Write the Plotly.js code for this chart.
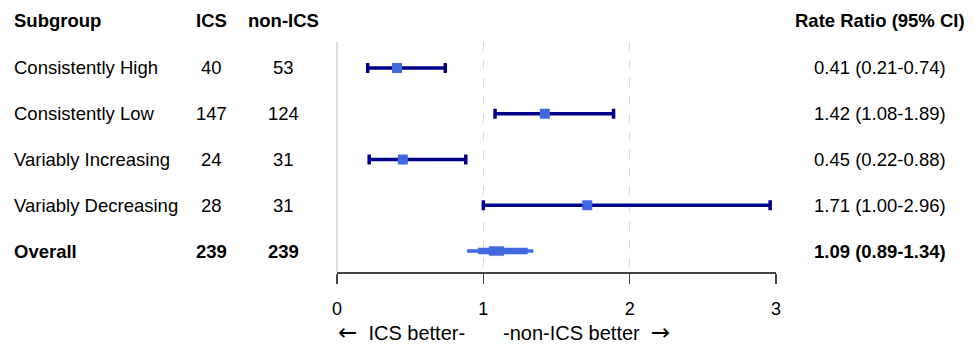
<!DOCTYPE html>
<html>
<head>
<meta charset="utf-8">
<script src="https://cdn.plot.ly/plotly-3.0.1.min.js"></script>
<style>html,body{margin:0;padding:0;background:#fff;}#chart{width:974px;height:345px;}</style>
</head>
<body>
<div id="chart"></div>
<script>
const subgroups = ["Consistently High", "Consistently Low", "Variably Increasing", "Variably Decreasing"];
const icsN = [40, 147, 24, 28];
const nonIcsN = [53, 124, 31, 31];
const rr = [0.41, 1.42, 0.45, 1.71];
const lower = [0.21, 1.08, 0.22, 1.00];
const upper = [0.74, 1.89, 0.88, 2.96];
const overallLabel = "Overall";
const overallIcs = 239;
const overallNonIcs = 239;
const overallRR = 1.09;
const overallLo = 0.89;
const overallHi = 1.34;
const xTicks = [0, 1, 2, 3];
const headers = ["Subgroup", "ICS", "non-ICS", "Rate Ratio (95% CI)"];
const bottomLabels = ["ICS better-", "-non-ICS better"];

const W = 974, H = 345;
const FONT = "Liberation Sans, Arial, sans-serif";
const rowY = subgroups.map((_, i) => subgroups.length + 1 - i); // 5..2
const overallY = 1;

const fmt = v => v.toFixed(2);

const traces = [];
traces.push({
  type: "scatter", mode: "markers",
  x: rr, y: rowY,
  marker: {symbol: "square", size: 10, color: "#4169E1"},
  error_x: {type: "data", symmetric: false,
    array: rr.map((v, i) => upper[i] - v),
    arrayminus: rr.map((v, i) => v - lower[i]),
    color: "#00008B", thickness: 3.5, width: 5},
  cliponaxis: false, hoverinfo: "skip", showlegend: false
});

// stepped diamond for overall
const h1 = 0.033, h2 = 0.066, h3 = 0.1;
const a = overallLo, b = overallHi;
const m1l = overallRR - (overallRR - overallLo) * 0.62, m1r = overallRR + (overallHi - overallRR) * 0.85;
const m2l = overallRR - (overallRR - overallLo) * 0.25, m2r = overallRR + (overallHi - overallRR) * 0.2;
const dx = [a, m1l, m1l, m2l, m2l, m2r, m2r, m1r, m1r, b, b, m1r, m1r, m2r, m2r, m2l, m2l, m1l, m1l, a, a];
const dy = [overallY + h1, overallY + h1, overallY + h2, overallY + h2, overallY + h3, overallY + h3, overallY + h2, overallY + h2, overallY + h1, overallY + h1,
            overallY - h1, overallY - h1, overallY - h2, overallY - h2, overallY - h3, overallY - h3, overallY - h2, overallY - h2, overallY - h1, overallY - h1, overallY + h1];
traces.push({
  type: "scatter", mode: "lines", x: dx, y: dy, fill: "toself",
  fillcolor: "#4169E1", line: {color: "#4169E1", width: 0.5},
  hoverinfo: "skip", showlegend: false
});

const ann = [];
const colX = {sub: 12 / W, ics: 211 / W, non: 283 / W, rr: 880 / W};
const headerY = (H - 21) / H;
const bottomY = (H - 332) / H;
const txt = (text, x, y, anchor, bold, yref, size) => ({
  text: bold ? "<b>" + text + "</b>" : text,
  x: x, y: y, xref: "paper", yref: yref || "y", xanchor: anchor, yanchor: "middle",
  showarrow: false, font: {family: FONT, size: size || 18.5, color: "#000"}
});
const arrow = ch => '<span style="font-family:DejaVu Sans;font-size:23px">' + ch + '</span>';
ann.push(txt(headers[0], colX.sub, headerY, "left", true, "paper"));
ann.push(txt(headers[1], colX.ics, headerY, "center", true, "paper"));
ann.push(txt(headers[2], colX.non, headerY, "center", true, "paper"));
ann.push(txt(headers[3], colX.rr, headerY, "center", true, "paper"));
subgroups.forEach((s, i) => {
  ann.push(txt(s, colX.sub, rowY[i], "left", false));
  ann.push(txt(String(icsN[i]), colX.ics, rowY[i], "center", false));
  ann.push(txt(String(nonIcsN[i]), colX.non, rowY[i], "center", false));
  ann.push(txt(fmt(rr[i]) + " (" + fmt(lower[i]) + "-" + fmt(upper[i]) + ")", colX.rr, rowY[i], "center", false));
});
ann.push(txt(overallLabel, colX.sub, overallY, "left", true));
ann.push(txt(String(overallIcs), colX.ics, overallY, "center", true));
ann.push(txt(String(overallNonIcs), colX.non, overallY, "center", true));
ann.push(txt(fmt(overallRR) + " (" + fmt(overallLo) + "-" + fmt(overallHi) + ")", colX.rr, overallY, "center", true));
ann.push(txt(arrow("\u2190") + "\u00a0 " + bottomLabels[0], 401 / W, bottomY, "center", false, "paper", 20));
ann.push(txt(bottomLabels[1] + " \u00a0" + arrow("\u2192"), 586 / W, bottomY, "center", false, "paper", 20));

const layout = {
  width: W, height: H,
  margin: {l: 0, r: 0, t: 0, b: 0},
  paper_bgcolor: "#fff", plot_bgcolor: "#fff",
  showlegend: false,
  xaxis: {
    domain: [337 / W, 776 / W], range: [0, 3],
    tickvals: xTicks, ticktext: xTicks.map(String),
    showgrid: true, griddash: "dash", gridcolor: "#dcdcdc", gridwidth: 1,
    zeroline: true, zerolinecolor: "#dcdcdc", zerolinewidth: 1.5,
    showline: true, linecolor: "#444", linewidth: 1.5,
    ticks: "outside", ticklen: 10, tickcolor: "#444", tickwidth: 1.5,
    ticklabelstandoff: 10,
    tickfont: {family: FONT, size: 18, color: "#000"},
    fixedrange: true
  },
  yaxis: {
    domain: [(H - 272) / H, (H - 42) / H],
    range: [1 + (251 - 272) / 45.75, 1 + (251 - 42) / 45.75],
    showgrid: false, zeroline: false, showline: false, showticklabels: false, ticks: "",
    fixedrange: true
  },
  annotations: ann
};

Plotly.newPlot("chart", traces, layout, {displayModeBar: false, staticPlot: true});
</script>
</body>
</html>
